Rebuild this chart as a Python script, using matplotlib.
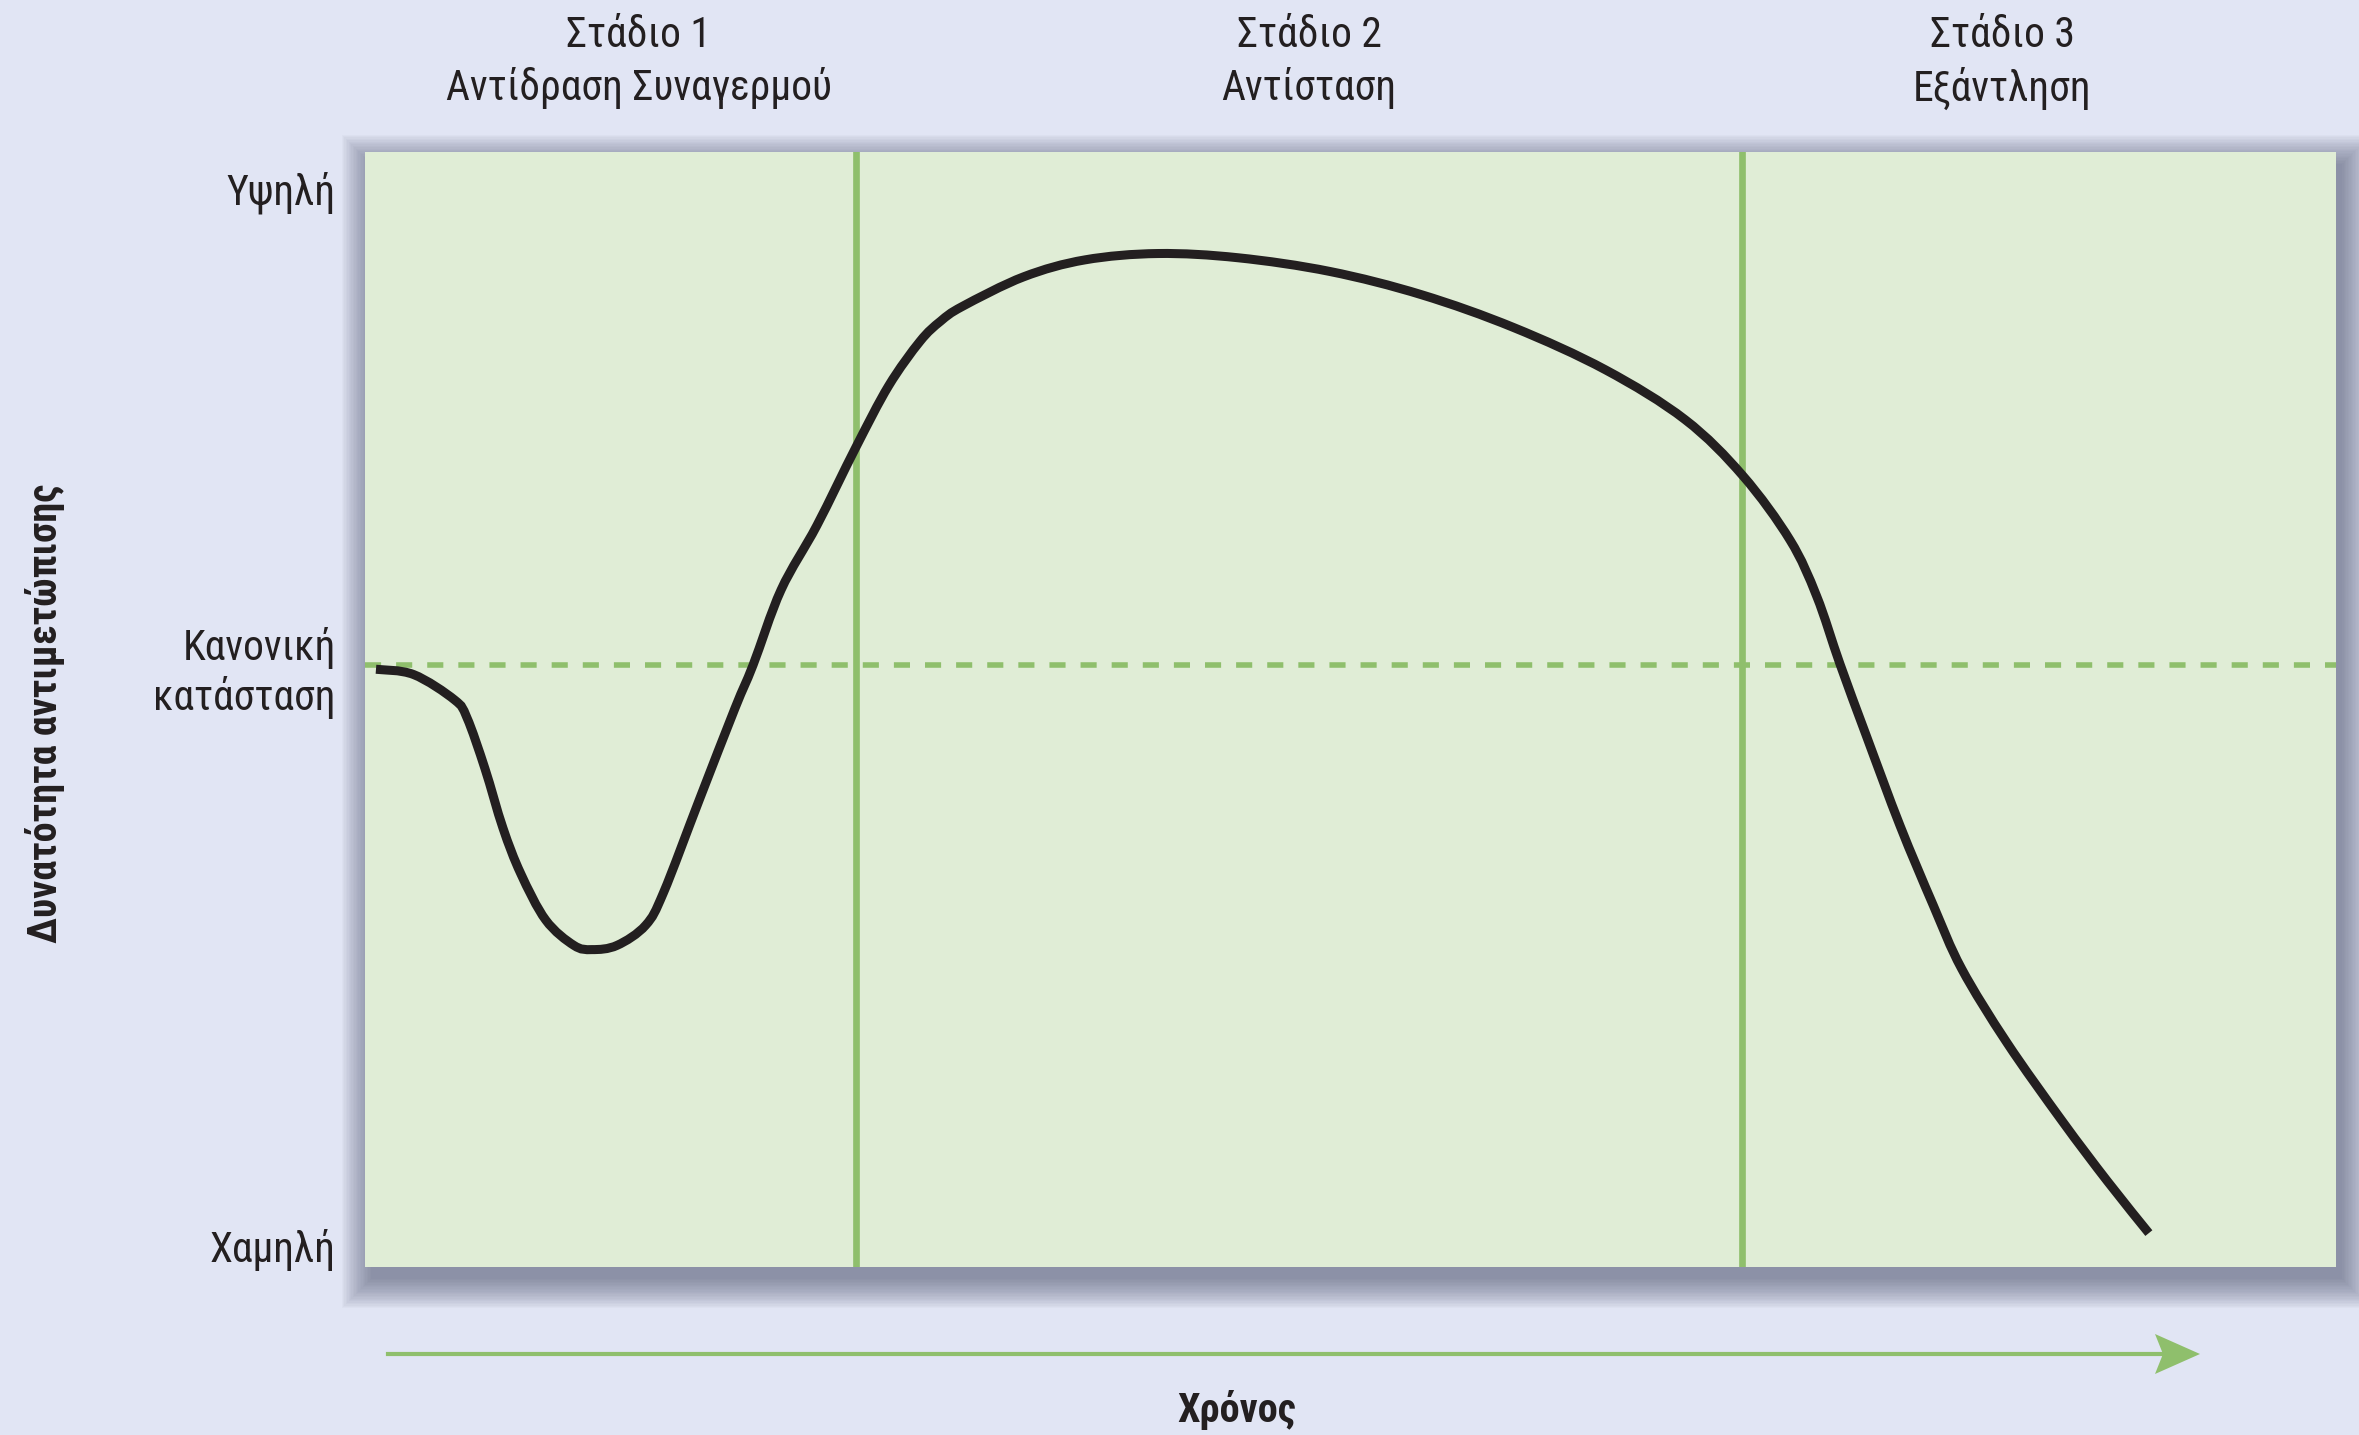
import numpy as np
import matplotlib
matplotlib.use("Agg")
import matplotlib.pyplot as plt
from matplotlib.patches import Rectangle, PathPatch, Polygon
from matplotlib.lines import Line2D
from matplotlib.path import Path
from matplotlib.transforms import blended_transform_factory

plt.rcParams['font.family'] = ['Roboto Condensed', 'DejaVu Sans']
plt.rcParams['font.stretch'] = 'condensed'

# general adaptation curve (x: time 0-100, y: 0 = low, 10 = high)
time = [0.56, 2.47, 4.55, 5.18, 6.09, 7.00, 7.90, 9.17, 10.60, 11.52, 12.79, 14.24,
        15.15, 16.95, 18.77, 19.69, 21.11, 22.93, 24.91, 26.57, 28.16, 29.2, 30.31, 33.42,
        36.53, 40.23, 44.29, 48.96, 53.61, 58.28, 62.94, 66.97, 69.90, 72.30, 73.65,
        74.83, 76.19, 77.88, 79.56, 81.0, 83.3, 86.1, 88.4, 90.5]
capacity = [5.45, 5.40, 5.16, 4.99, 4.51, 3.95, 3.52, 3.08, 2.84, 2.80, 2.84, 3.03,
            3.34, 4.21, 5.08, 5.49, 6.20, 6.81, 7.55, 8.13, 8.55, 8.74, 8.88, 9.16,
            9.32, 9.38, 9.34, 9.21, 8.99, 8.68, 8.28, 7.81, 7.28, 6.67, 6.14,
            5.50, 4.81, 3.97, 3.22, 2.62, 1.92, 1.18, 0.61, 0.12]

stage_bounds = [24.91, 69.86]
stage_names = ["Στάδιο 1", "Στάδιο 2", "Στάδιο 3"]
stage_desc = ["Αντίδραση Συναγερμού", "Αντίσταση", "Εξάντληση"]
stage_label_x = [13.9, 47.9, 83.05]
normal_level = 5.49
ytick_vals = [0, normal_level, 10]
ytick_labels = ["Χαμηλή", "Κανονική\nκατάσταση", "Υψηλή"]

bg = "#E1E5F4"
panel = "#E0EDD6"
green = "#8FBF6C"
ink = "#231F20"


def smooth_path(xs, ys):
    # bezier segments through the read points (catmull-rom style handles)
    p = np.column_stack([xs, ys])
    verts = [p[0]]
    codes = [Path.MOVETO]
    for i in range(len(p) - 1):
        p0 = p[i - 1] if i > 0 else p[i]
        p3 = p[i + 2] if i + 2 < len(p) else p[i + 1]
        c1 = p[i] + (p[i + 1] - p0) / 6.0
        c2 = p[i + 1] - (p3 - p[i]) / 6.0
        verts += [c1, c2, p[i + 1]]
        codes += [Path.CURVE4] * 3
    return Path(verts, codes)


fig = plt.figure(figsize=(23.59, 14.35), dpi=100, facecolor=bg)
ax_pos = [0.1547, 0.1171, 0.8356, 0.7770]
ax = fig.add_axes(ax_pos)
W, H = fig.get_size_inches() * fig.dpi

# soft drop shadow behind the panel
for i in range(22):
    e = i * 1.4
    dx, dy = 6, -12
    x0 = ax_pos[0] + (dx - e) / W
    y0 = ax_pos[1] + (dy - e) / H
    w = ax_pos[2] + 2 * e / W
    h = ax_pos[3] + 2 * e / H
    fig.patches.append(Rectangle((x0, y0), w, h, transform=fig.transFigure,
                                 facecolor="#555a75", edgecolor="none",
                                 alpha=0.035, zorder=0))

ax.set_facecolor(panel)
ax.set_zorder(1)
for s in ax.spines.values():
    s.set_visible(False)

ax.add_patch(PathPatch(smooth_path(time, capacity), facecolor="none",
                       edgecolor=ink, lw=6.5, capstyle="butt", zorder=4))
for b in stage_bounds:
    ax.axvline(b, color=green, lw=4.8, zorder=2)
ax.axhline(normal_level, color=green, lw=4, ls=(0, (2.9, 2.7)), zorder=2)

ax.set_xlim(0, 100)
ax.set_ylim(-0.2, 10.34)
ax.set_xticks([])
ax.set_yticks(ytick_vals)
ax.set_yticklabels(ytick_labels, fontsize=30, color=ink)
ax.tick_params(axis="y", length=0, pad=21)

trans = blended_transform_factory(ax.transData, fig.transFigure)
for x, n, d in zip(stage_label_x, stage_names, stage_desc):
    ax.text(x, 0.9675, n, transform=trans, ha="center", va="baseline",
            fontsize=30, color=ink)
    ax.text(x, 0.930, d, transform=trans, ha="center", va="baseline",
            fontsize=30, color=ink)

fig.text(0.019, 0.503, "Δυνατότητα αντιμετώπισης", rotation=90, ha="center",
         va="center", fontsize=29, fontweight="bold", color=ink)

# time arrow with a swept-back head
ay = 1 - 1354 / H
fig.lines.append(Line2D([388 / W, 2165 / W], [ay, ay], transform=fig.transFigure,
                        color=green, lw=3))
head = [(2200 / W, ay), (2155 / W, ay + 20 / H), (2163 / W, ay), (2155 / W, ay - 20 / H)]
fig.patches.append(Polygon(head, closed=True, transform=fig.transFigure,
                           facecolor=green, edgecolor="none"))
fig.text(0.5244, 0.0174, "Χρόνος", ha="center", va="center", fontsize=29,
         fontweight="bold", color=ink)

fig.savefig("out.png", dpi=100, facecolor=bg)
